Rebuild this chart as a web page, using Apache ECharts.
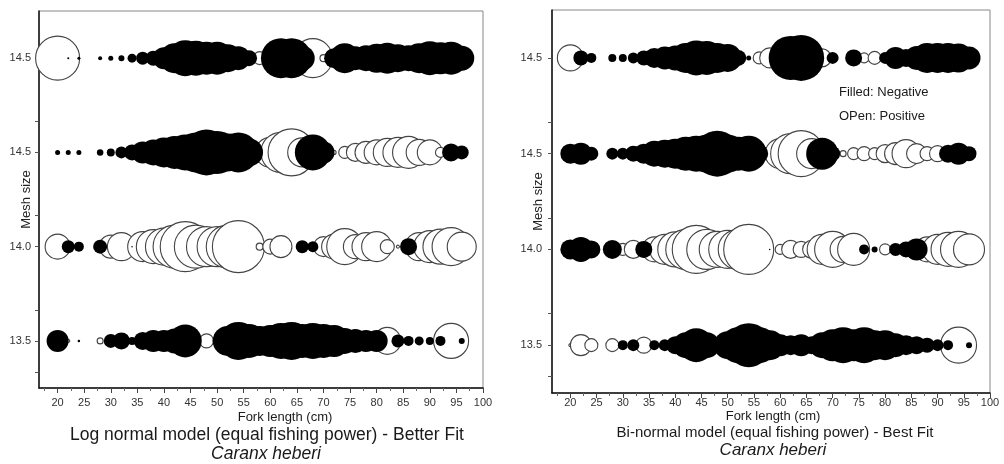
<!DOCTYPE html>
<html>
<head>
<meta charset="utf-8">
<script src="https://cdn.jsdelivr.net/npm/echarts@6/dist/echarts.min.js"></script>
<style>
  html, body { margin: 0; padding: 0; background: #fff; }
  #chart { width: 1004px; height: 464px; }
</style>
</head>
<body>
<div id="chart"></div>
<script>
// fork length bins (cm)
const lengths = [20, 22, 24, 26, 28, 30, 32, 34, 36, 38,
                 40, 42, 44, 46, 48, 50, 52, 54, 56, 58,
                 60, 62, 64, 66, 68, 70, 72, 74, 76, 78,
                 80, 82, 84, 86, 88, 90, 92, 94, 96];
// mesh size rows, bottom to top
const meshLabels = ['13.5', '14.0', '14.5', '14.5'];
const xTicks = [20, 25, 30, 35, 40, 45, 50, 55, 60, 65, 70, 75, 80, 85, 90, 95, 100];
const xMinorTicks = [17.5, 22.5, 27.5, 32.5, 37.5, 42.5, 47.5, 52.5, 57.5,
                     62.5, 67.5, 72.5, 77.5, 82.5, 87.5, 92.5, 97.5];

// residuals: negative = filled, positive = open (bubble diameter ~ |value|)
// Log normal model
const logRow135 = [-2.2, 0.3, -0.25, 0, 0.6, -1.4, -1.7, -0.8, -1.8, -2.2,
                   -2.2, -2.5, -3.3, -1.0, 1.4, -0.9, -3.0, -3.8, -3.4, -3.0,
                   -3.2, -3.6, -3.8, -3.4, -3.6, -3.4, -3.2, -2.6, -2.4, -2.2,
                   -2.2, 2.7, -1.3, -1.0, -0.9, -0.8, -1.0, 3.5, -0.6];
const logRow140 = [2.5, -1.3, -1.0, 0, -1.4, 2.3, 2.8, -0.15, 3.0, 3.4,
                   3.7, 4.3, 5.0, 4.3, 4.0, 4.0, 4.3, 5.2, 0, 0.7,
                   1.5, 2.2, 0, -1.3, -1.1, 2.0, 2.5, 3.6, 2.4, 2.8,
                   3.0, 1.4, 0.3, -1.7, 2.8, 3.2, 3.5, 3.8, 2.9];
const logRow145b = [-0.5, -0.5, -0.5, 0, -0.65, -0.8, -1.2, -1.6, -2.2, -2.6,
                    -3.0, -3.3, -3.6, -4.0, -4.6, -4.3, -3.8, -4.0, -2.8, 2.0,
                    3.0, 4.0, 4.7, 2.9, -3.6, -2.2, 0.4, 1.2, 1.8, 2.2,
                    2.5, 2.8, 3.0, 3.2, 2.6, 2.5, 1.0, -1.8, -1.4];
const logRow145a = [4.4, -0.2, -0.3, 0, -0.4, -0.5, -0.6, -0.9, -1.3, -1.5,
                    -2.2, -3.0, -3.6, -3.5, -3.3, -3.3, -2.8, -2.4, -1.6, 1.3,
                    -1.5, -4.0, -4.0, -2.5, 3.9, 0.7, -2.0, -3.0, -2.4, -2.6,
                    -2.9, -3.1, -2.8, -2.6, -3.0, -3.4, -3.2, -3.3, -2.5];

// Bi-normal model
const biRow135 = [0.3, 2.1, 1.3, 0, 1.3, -1.0, -1.2, 1.6, -1.0, -1.2,
                  -1.8, -2.6, -3.4, -2.6, -1.5, -2.8, -3.6, -4.4, -3.6, -3.0,
                  -2.2, -2.0, -2.2, -1.8, -2.6, -3.2, -3.6, -3.2, -3.6, -3.0,
                  -3.0, -2.4, -2.0, -1.8, -1.5, -1.2, -1.0, 3.6, -0.6];
const biRow140 = [-2.0, -2.5, -1.8, 0, -1.9, 1.2, 1.8, -1.7, 2.5, 3.0,
                  3.5, 4.0, 4.8, 4.0, 3.6, 3.8, 4.0, 5.0, 0, -0.15,
                  1.0, 1.8, 1.6, 1.8, 3.0, 3.6, 2.6, 3.2, -1.0, -0.6,
                  1.1, -1.3, -1.6, -2.2, 2.5, 3.0, 3.4, 3.6, 3.1];
const biRow145b = [-2.0, -2.2, -1.4, 0, -1.2, -1.2, -1.6, -2.0, -2.6, -2.8,
                   -3.0, -3.4, -3.6, -3.8, -4.6, -3.8, -3.4, -3.6, -1.8, 1.2,
                   3.0, 4.0, 4.6, 3.0, -3.2, -1.5, 0.6, 1.2, 1.4, 1.2,
                   1.8, 2.2, 2.8, 2.0, 1.4, 1.6, -1.8, -2.2, -1.5];
const biRow145a = [2.6, -1.5, -1.0, 0, -0.8, -0.8, -1.1, -1.5, -2.0, -2.3,
                   -2.5, -3.0, -3.5, -3.4, -3.0, -2.8, -1.6, -0.5, 1.2, 2.0,
                   -1.5, -4.4, -4.6, 0, 1.8, -1.2, 0, -1.7, 1.0, 1.3,
                   -1.2, -2.2, -1.8, -2.4, -3.0, -3.0, -3.0, -2.9, -2.3];

const FONT = "'Liberation Sans', Arial, sans-serif";

const chart = echarts.init(document.getElementById('chart'));

// open circles first, filled ones drawn on top
function bubbleSeries(rows, idx) {
  const open = [];
  const filled = [];
  rows.forEach((row, r) => {
    row.forEach((v, i) => {
      if (v > 0) open.push([lengths[i], r, v]);
      else if (v < 0) filled.push([lengths[i], r, v]);
    });
  });
  const size = val => Math.abs(val[2]) * 10;
  return [
    {
      name: 'Positive', type: 'scatter', xAxisIndex: idx * 2, yAxisIndex: idx,
      data: open, symbolSize: size, clip: false,
      itemStyle: { color: '#fff', borderColor: '#444', borderWidth: 1.1, opacity: 1 }
    },
    {
      name: 'Negative', type: 'scatter', xAxisIndex: idx * 2, yAxisIndex: idx,
      data: filled, symbolSize: size, clip: false,
      itemStyle: { color: '#000', borderColor: '#000', borderWidth: 0, opacity: 1 }
    }
  ];
}

function xAxes(grid, margin) {
  return [
    {
      type: 'value', gridIndex: grid, position: 'bottom', min: 16.5, max: 100,
      axisLine: { show: true, onZero: false, lineStyle: { color: '#111', width: 1.5 } },
      axisTick: { show: true, customValues: xTicks, length: 5, lineStyle: { color: '#444' } },
      axisLabel: { customValues: xTicks, fontSize: 11, color: '#333', margin: margin, fontFamily: FONT },
      splitLine: { show: false }
    },
    {
      type: 'value', gridIndex: grid, position: 'bottom', min: 16.5, max: 100,
      axisLine: { show: false, onZero: false },
      axisTick: { show: true, customValues: xMinorTicks, length: 3, lineStyle: { color: '#666' } },
      axisLabel: { show: false },
      splitLine: { show: false }
    }
  ];
}

function yAxis(grid, gap, margin) {
  return {
    type: 'value', gridIndex: grid, min: -0.5, max: 3.5,
    axisLine: { show: true, onZero: false, lineStyle: { color: '#111', width: 1.5 } },
    axisTick: { show: true, customValues: [-0.33, 0, 0.33, 1, 1.33, 2, 2.33, 3], length: 4, lineStyle: { color: '#555' } },
    axisLabel: {
      customValues: [0, 1, 2, 3], fontSize: 11, color: '#333', margin: margin, fontFamily: FONT,
      formatter: v => meshLabels[Math.round(v)]
    },
    splitLine: { show: false },
    name: 'Mesh size', nameLocation: 'middle', nameGap: gap, nameMoveOverlap: false,
    nameTextStyle: { fontSize: 13, color: '#222', fontFamily: FONT }
  };
}

function label(text, x, y, font, align) {
  return {
    type: 'text', x: x, y: y,
    style: { text: text, font: font, fill: '#1a1a1a', textAlign: align || 'center', textVerticalAlign: 'middle' }
  };
}

const option = {
  animation: false,
  backgroundColor: '#fff',
  grid: [
    { left: 39, top: 11, width: 444, height: 377, show: true, borderColor: '#888', borderWidth: 1 },
    { left: 552, top: 10, width: 438, height: 383, show: true, borderColor: '#888', borderWidth: 1 }
  ],
  xAxis: [...xAxes(0, 9), ...xAxes(1, 4)],
  yAxis: [yAxis(0, 6, 8), yAxis(1, 7, 10)],
  series: [
    ...bubbleSeries([logRow135, logRow140, logRow145b, logRow145a], 0),
    ...bubbleSeries([biRow135, biRow140, biRow145b, biRow145a], 1)
  ],
  graphic: [
    label('Fork length (cm)', 285, 417, '13px ' + FONT),
    label('Log normal model (equal fishing power) - Better Fit', 267, 435, '17.5px ' + FONT),
    label('Caranx heberi', 266, 454, 'italic 17.5px ' + FONT),
    label('Fork length (cm)', 773, 416, '13px ' + FONT),
    label('Bi-normal model (equal fishing power) - Best Fit', 775, 433, '15px ' + FONT),
    label('Caranx heberi', 773, 450, 'italic 17px ' + FONT),
    label('Filled: Negative', 839, 92, '13px ' + FONT, 'left'),
    label('OPen: Positive', 839, 116, '13px ' + FONT, 'left')
  ]
};

chart.setOption(option);
</script>
</body>
</html>
